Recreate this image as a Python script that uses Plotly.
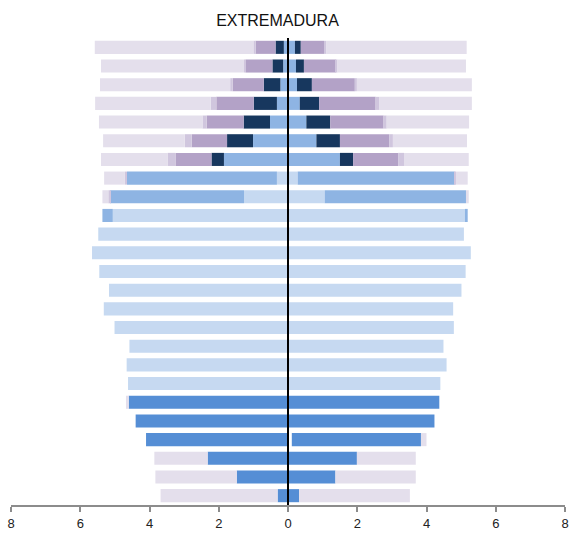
import plotly.graph_objects as go

# rows listed from top (oldest) to bottom (youngest)
rows = list(range(25))

# left side (men) widths, stacked from the centre outward
left_light = [0, 0, 0, 0, 0, 0, 0, 0.32, 1.27, 5.06, 5.48, 5.66, 5.45, 5.17, 5.32, 5.01, 4.58, 4.66, 4.62, 0, 0, 0, 0, 0, 0]
left_strong = [0, 0, 0, 0, 0, 0, 0, 0, 0, 0, 0, 0, 0, 0, 0, 0, 0, 0, 0, 4.60, 4.40, 4.10, 2.32, 1.48, 0.30]
left_mid = [0.12, 0.14, 0.22, 0.32, 0.52, 1.01, 1.85, 4.33, 3.87, 0.30, 0, 0, 0, 0, 0, 0, 0, 0, 0, 0, 0, 0, 0, 0, 0]
left_navy = [0.24, 0.31, 0.48, 0.67, 0.76, 0.75, 0.36, 0, 0, 0, 0, 0, 0, 0, 0, 0, 0, 0, 0, 0, 0, 0, 0, 0, 0]
left_purple = [0.57, 0.77, 0.90, 1.08, 1.07, 1.02, 1.04, 0, 0, 0, 0, 0, 0, 0, 0, 0, 0, 0, 0, 0, 0, 0, 0, 0, 0]
left_lav2 = [0.07, 0.05, 0.07, 0.16, 0.12, 0.20, 0.23, 0.06, 0.05, 0, 0, 0, 0, 0, 0, 0, 0, 0, 0, 0, 0, 0, 0, 0, 0]
left_lav = [4.58, 4.13, 3.76, 3.34, 2.99, 2.36, 1.92, 0.60, 0.17, 0, 0, 0, 0, 0, 0, 0, 0, 0, 0, 0.08, 0, 0, 1.54, 2.35, 3.38]

# right side (women)
right_gap = [0, 0, 0, 0, 0, 0, 0, 0, 0, 0, 0, 0, 0, 0, 0, 0, 0, 0, 0, 0, 0, 0.11, 0, 0, 0]
right_light = [0, 0, 0, 0, 0, 0, 0, 0.28, 1.06, 5.11, 5.08, 5.28, 5.13, 5.01, 4.77, 4.79, 4.49, 4.58, 4.40, 0, 0, 0, 0, 0, 0]
right_strong = [0, 0, 0, 0, 0, 0, 0, 0, 0, 0, 0, 0, 0, 0, 0, 0, 0, 0, 0, 4.37, 4.23, 3.73, 1.99, 1.37, 0.32]
right_mid = [0.20, 0.23, 0.26, 0.34, 0.53, 0.82, 1.50, 4.53, 4.08, 0.08, 0, 0, 0, 0, 0, 0, 0, 0, 0, 0, 0, 0, 0, 0, 0]
right_navy = [0.17, 0.23, 0.43, 0.56, 0.69, 0.68, 0.38, 0, 0, 0, 0, 0, 0, 0, 0, 0, 0, 0, 0, 0, 0, 0, 0, 0, 0]
right_purple = [0.67, 0.92, 1.24, 1.63, 1.54, 1.42, 1.30, 0, 0, 0, 0, 0, 0, 0, 0, 0, 0, 0, 0, 0, 0, 0, 0, 0, 0]
right_lav2 = [0.06, 0.05, 0.06, 0.10, 0.09, 0.11, 0.17, 0.04, 0, 0, 0, 0, 0, 0, 0, 0, 0, 0, 0, 0, 0, 0, 0, 0, 0]
right_lav = [4.06, 3.71, 3.32, 2.68, 2.38, 2.14, 1.87, 0.34, 0.08, 0, 0, 0, 0, 0, 0, 0, 0, 0, 0, 0, 0, 0.16, 1.70, 2.32, 3.20]

tick_vals = [-8, -6, -4, -2, 0, 2, 4, 6, 8]
tick_text = ["8", "6", "4", "2", "0", "2", "4", "6", "8"]

colors = {
    "gap": "rgba(0,0,0,0)",
    "light": "#c6d9f1",
    "strong": "#558ed5",
    "mid": "#8eb4e3",
    "navy": "#17375e",
    "purple": "#b3a2c7",
    "lav2": "#d0c6de",
    "lav": "#e4dfec",
}

left = {"light": left_light, "strong": left_strong, "mid": left_mid, "navy": left_navy,
        "purple": left_purple, "lav2": left_lav2, "lav": left_lav}
right = {"gap": right_gap, "light": right_light, "strong": right_strong, "mid": right_mid,
         "navy": right_navy, "purple": right_purple, "lav2": right_lav2, "lav": right_lav}

fig = go.Figure()

# segments are stacked from the centre outward, same order on both sides
for key in ["gap", "light", "strong", "mid", "navy", "purple", "lav2", "lav"]:
    if key in left:
        fig.add_trace(go.Bar(
            y=rows, x=[-v for v in left[key]], orientation="h",
            marker=dict(color=colors[key], line=dict(width=0)),
            showlegend=False, hoverinfo="skip"
        ))
    fig.add_trace(go.Bar(
        y=rows, x=right[key], orientation="h",
        marker=dict(color=colors[key], line=dict(width=0)),
        showlegend=False, hoverinfo="skip"
    ))

# central axis line
fig.add_shape(type="line", x0=0, x1=0, y0=0, y1=1, xref="x", yref="paper",
              line=dict(color="black", width=2), layer="above")

fig.update_layout(
    width=575, height=533,
    barmode="relative",
    bargap=0.3,
    plot_bgcolor="white",
    paper_bgcolor="white",
    font=dict(family="Liberation Sans, Arial, sans-serif", color="#222"),
    title=dict(text="EXTREMADURA", x=0.481, xref="paper", xanchor="center",
               y=0.962, yanchor="middle", font=dict(size=16, color="#111")),
    margin=dict(l=11, r=10, t=38, b=28),
    xaxis=dict(
        range=[-8, 8], tickvals=tick_vals, ticktext=tick_text,
        showgrid=False, zeroline=False, automargin=False,
        showline=True, linecolor="#8c8c8c", linewidth=2,
        ticks="outside", ticklen=5, tickcolor="#8c8c8c", tickwidth=2,
        tickfont=dict(size=13, color="#222"),
    ),
    yaxis=dict(
        range=[24.5, -0.5], showticklabels=False, showgrid=False,
        zeroline=False, showline=False, ticks="", automargin=False,
    ),
)

# drop the default body margin so the figure sits at the window corner
fig.write_html("out.html", config={"displayModeBar": False},
               post_script="document.body.style.margin = '0';")
